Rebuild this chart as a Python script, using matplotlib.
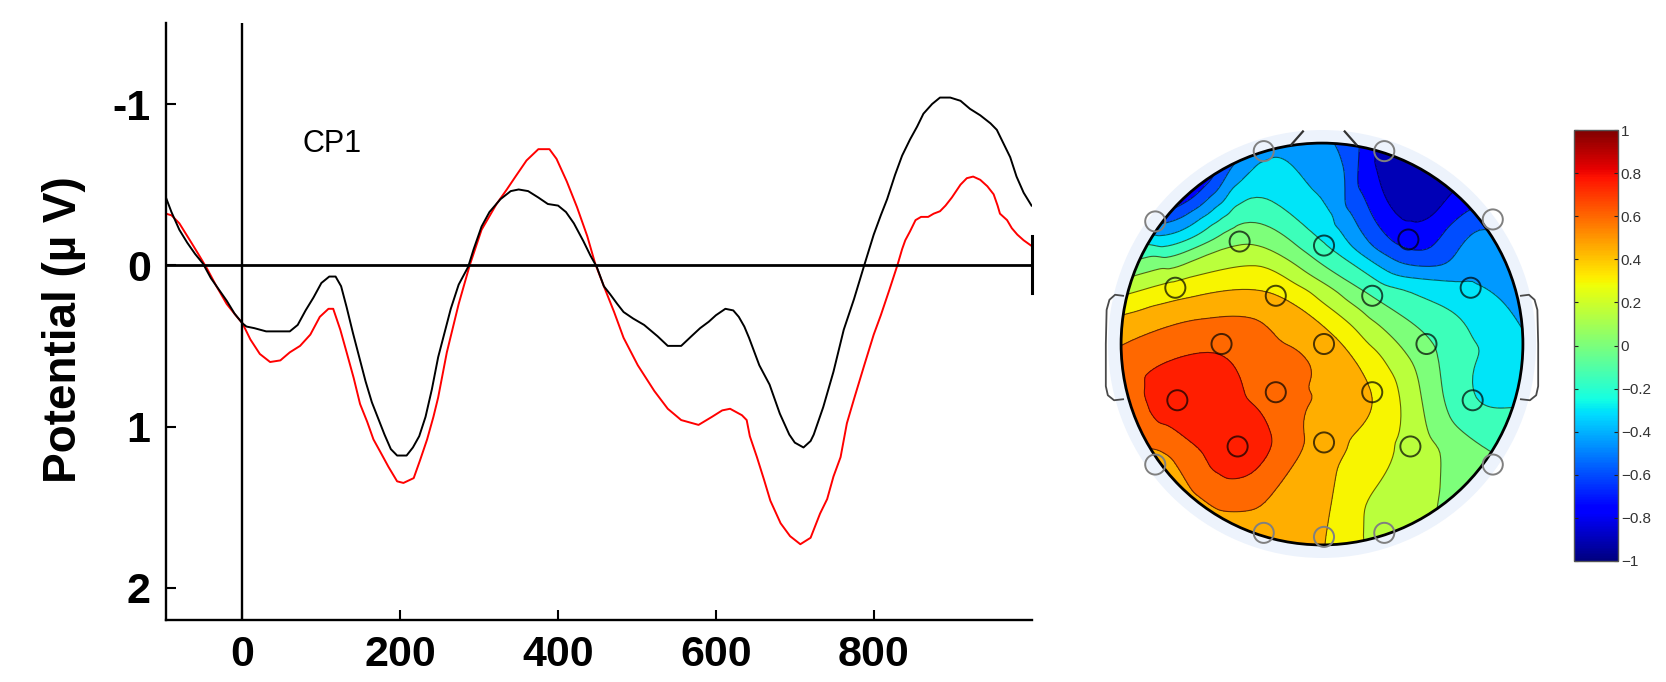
import numpy as np
import matplotlib
matplotlib.use("Agg")
import matplotlib.pyplot as plt
import matplotlib.tri as mtri
from matplotlib.patches import Circle
from matplotlib.colors import Normalize
from matplotlib.cm import ScalarMappable

plt.rcParams['font.family'] = ['Liberation Sans', 'DejaVu Sans']

# ERP at CP1 (ms, microvolts), two conditions
t_black = [-97, -90, -80, -70, -60, -50, -40, -30, -20, -10, 0, 5, 15, 30, 45, 60, 70, 80, 90,
           100, 110, 118, 125, 132, 140, 148, 156, 164, 172, 180, 188, 196, 208, 216, 224, 232,
           240, 248, 256, 264, 274, 286, 293, 303, 313, 327, 340, 350, 362, 375, 387, 400, 410,
           420, 432, 441, 449, 458, 466, 475, 483, 495, 509, 526, 539, 556, 569, 580, 591, 600,
           612, 622, 629, 636, 642, 655, 668, 681, 693, 700, 711, 720, 724, 736, 749, 762, 775,
           788, 800, 809, 817, 827, 836, 846, 855, 863, 874, 884, 897, 910, 922, 935, 948, 956,
           964, 973, 981, 990, 1000]
v_black = [-0.42, -0.33, -0.22, -0.14, -0.07, -0.01, 0.08, 0.15, 0.22, 0.30, 0.36, 0.38, 0.39,
           0.41, 0.41, 0.41, 0.37, 0.28, 0.20, 0.11, 0.07, 0.07, 0.13, 0.26, 0.42, 0.57, 0.72,
           0.85, 0.95, 1.05, 1.14, 1.18, 1.18, 1.13, 1.06, 0.94, 0.77, 0.57, 0.42, 0.27, 0.12,
           0.01, -0.10, -0.24, -0.33, -0.41, -0.46, -0.47, -0.46, -0.42, -0.38, -0.37, -0.33,
           -0.26, -0.15, -0.06, 0.01, 0.13, 0.18, 0.24, 0.29, 0.33, 0.37, 0.44, 0.50, 0.50, 0.44,
           0.39, 0.35, 0.31, 0.27, 0.28, 0.32, 0.38, 0.45, 0.62, 0.74, 0.92, 1.05, 1.10, 1.13,
           1.09, 1.05, 0.88, 0.66, 0.40, 0.21, 0.0, -0.19, -0.31, -0.41, -0.56, -0.68, -0.78,
           -0.86, -0.94, -1.00, -1.04, -1.04, -1.02, -0.97, -0.93, -0.88, -0.84, -0.76, -0.67,
           -0.55, -0.45, -0.37]

t_red = [-97, -90, -80, -66, -56, -45, -33, -20, -7, 0, 10, 22, 35, 48, 60, 73, 86, 98, 109,
         115, 124, 132, 141, 149, 158, 166, 175, 185, 196, 204, 217, 225, 234, 242, 248, 259,
         274, 288, 303, 322, 335, 346, 360, 375, 389, 398, 411, 424, 437, 447, 458, 471, 483,
         501, 522, 539, 556, 578, 595, 608, 618, 633, 639, 643, 652, 661, 669, 682, 694, 707,
         720, 732, 741, 749, 758, 766, 775, 788, 800, 809, 820, 830, 836, 840, 846, 853, 860,
         869, 876, 884, 891, 899, 910, 918, 926, 935, 944, 952, 957, 960, 969, 975, 982, 990,
         1000]
v_red = [-0.32, -0.31, -0.26, -0.15, -0.07, 0.02, 0.13, 0.24, 0.32, 0.36, 0.46, 0.55, 0.60,
         0.59, 0.54, 0.50, 0.43, 0.32, 0.27, 0.27, 0.40, 0.54, 0.70, 0.86, 0.97, 1.08, 1.16,
         1.25, 1.34, 1.35, 1.32, 1.21, 1.08, 0.94, 0.82, 0.54, 0.24, 0.0, -0.22, -0.38, -0.47,
         -0.55, -0.65, -0.72, -0.72, -0.66, -0.52, -0.36, -0.18, -0.01, 0.13, 0.29, 0.45, 0.62,
         0.78, 0.89, 0.96, 0.99, 0.94, 0.90, 0.89, 0.93, 0.96, 1.06, 1.19, 1.33, 1.46, 1.60,
         1.68, 1.73, 1.69, 1.54, 1.45, 1.31, 1.19, 0.98, 0.83, 0.62, 0.43, 0.31, 0.15, 0.0,
         -0.10, -0.155, -0.21, -0.28, -0.30, -0.30, -0.32, -0.335, -0.37, -0.42, -0.50, -0.54,
         -0.55, -0.53, -0.49, -0.44, -0.37, -0.32, -0.28, -0.23, -0.19, -0.155, -0.12]

x_ticks = [0, 200, 400, 600, 800]
y_ticks = [-1, 0, 1, 2]
y_tick_labels = ['-1', '0', '1', '2']

# scalp map: electrode positions (head radius = 1) and amplitudes
elec_x = [-0.29, 0.31, -0.83, 0.85, -0.41, 0.01, 0.43, -0.73, -0.23, 0.25, 0.74, -0.50, 0.01,
          0.52, -0.72, -0.23, 0.25, 0.75, -0.42, 0.01, 0.44, -0.83, 0.85, -0.29, 0.01, 0.31]
elec_y = [0.96, 0.96, 0.61, 0.62, 0.51, 0.49, 0.52, 0.28, 0.24, 0.24, 0.28, 0.0, 0.0, 0.0,
          -0.28, -0.24, -0.24, -0.28, -0.51, -0.49, -0.51, -0.60, -0.60, -0.94, -0.96, -0.94]
elec_v = [-0.40, -0.88, -0.55, -0.60, 0.05, -0.21, -0.74, 0.28, 0.38, -0.08, -0.35, 0.64,
          0.45, -0.05, 0.77, 0.59, 0.37, -0.21, 0.77, 0.45, 0.17, 0.47, -0.05, 0.45, 0.38, 0.15]

# amplitude just outside the scalp edge (angle in degrees, counter-clockwise from the right)
rim_deg = [0, 12, 24, 36, 48, 60, 73, 82, 90, 98, 107, 115, 125, 135, 144, 150, 155, 160, 165,
           170, 175, 180, 190, 200, 208, 216, 230, 240, 252, 262, 270, 278, 288, 298, 310, 324,
           335, 345, 355]
rim_val = [-0.38, -0.45, -0.55, -0.62, -0.82, -0.92, -0.85, -0.62, -0.52, -0.45, -0.40, -0.62,
           -0.86, -0.86, -0.55, -0.30, -0.15, 0.0, 0.15, 0.30, 0.42, 0.50, 0.55, 0.55, 0.52,
           0.47, 0.45, 0.45, 0.45, 0.42, 0.38, 0.28, 0.15, 0.10, 0.02, -0.05, -0.15, -0.25,
           -0.33]

cbar_ticks = [-1, -0.8, -0.6, -0.4, -0.2, 0, 0.2, 0.4, 0.6, 0.8, 1]
cbar_labels = ['\u22121', '\u22120.8', '\u22120.6', '\u22120.4', '\u22120.2', '0',
               '0.2', '0.4', '0.6', '0.8', '1']

fig = plt.figure(figsize=(16.66, 6.82), dpi=100)

# ---- ERP panel ----
ax = fig.add_axes([0.0996, 0.0909, 0.5198, 0.8748])
ax.plot(t_red, v_red, color='#ff0000', lw=1.4)
ax.plot(t_black, v_black, color='black', lw=1.4)
ax.axhline(0, color='black', lw=2)
ax.axvline(0, color='black', lw=1.7)
xmin, xmax = -97, 1000.5
ax.plot([xmax, xmax], [-0.18, 0.17], color='black', lw=2.2, clip_on=False)
ax.set_xlim(xmin, xmax)
ax.set_ylim(2.2, -1.5)
for s in ['top', 'right']:
    ax.spines[s].set_visible(False)
for s in ['left', 'bottom']:
    ax.spines[s].set_linewidth(1.7)
ax.set_xticks(x_ticks)
ax.set_yticks(y_ticks)
ax.set_yticklabels(y_tick_labels)
ax.tick_params(direction='in', length=7, width=1.5, labelsize=31, pad=11)
for lab in ax.get_xticklabels() + ax.get_yticklabels():
    lab.set_fontweight('bold')
ax.set_ylabel('Potential (\u00b5 V)', fontsize=33, fontweight='bold')
ax.yaxis.set_label_coords(-0.092, 0.486)
ax.text(76, -0.75, 'CP1', fontsize=22, va='center', ha='left')

# ---- scalp map ----
tax = fig.add_axes([1101 / 1666, 117 / 682, 442 / 1666, 442 / 682])
tax.set_xlim(-1.1, 1.1)
tax.set_ylim(-1.1, 1.1)
tax.set_aspect('equal')
tax.axis('off')

tax.add_patch(Circle((0, 0), 1.065, fc='#edf3fc', ec='none', zorder=0))

rim_r = 1.06
px = np.concatenate([elec_x, rim_r * np.cos(np.radians(rim_deg))])
py = np.concatenate([elec_y, rim_r * np.sin(np.radians(rim_deg))])
pv = np.concatenate([elec_v, rim_val])
tri = mtri.Triangulation(px, py)
interp = mtri.CubicTriInterpolator(tri, pv, kind='geom')
tri_f, v_f = mtri.UniformTriRefiner(tri).refine_field(pv, interp, subdiv=4)

levels = np.arange(-0.975, 1.0, 0.15)
norm = Normalize(-1, 1)
cf = tax.tricontourf(tri_f, v_f, levels=levels, cmap='jet', norm=norm, extend='both', zorder=1)
cl = tax.tricontour(tri_f, v_f, levels=levels, colors='black', linewidths=0.8, alpha=0.6,
                    linestyles='solid', zorder=2)
head_clip = Circle((0, 0), 1.0, transform=tax.transData)
cf.set_clip_path(head_clip)
cl.set_clip_path(head_clip)

tax.add_patch(Circle((0, 0), 1.0, fill=False, ec='black', lw=2, zorder=3))

# nose and ears
tax.plot([-0.153, -0.095], [0.992, 1.058], color='#333333', lw=1.6, zorder=3)
tax.plot([0.113, 0.171], [1.058, 0.992], color='#333333', lw=1.6, zorder=3)
ear_x = np.array([0.99, 1.03, 1.058, 1.072, 1.076, 1.076, 1.066, 1.035, 0.99])
ear_y = np.array([0.24, 0.245, 0.22, 0.17, 0.0, -0.21, -0.255, -0.28, -0.275])
for side in (-1, 1):
    tax.plot(side * ear_x, ear_y, color='#4a4a4a', lw=1.3, zorder=3)

for x, y in zip(elec_x, elec_y):
    edge = '#808080' if np.hypot(x, y) > 0.9 else (0, 0, 0, 0.7)
    tax.add_patch(Circle((x, y), 0.05, fill=False, ec=edge, lw=1.4, zorder=4))

# ---- colour bar ----
cax = fig.add_axes([1574 / 1666, 121 / 682, 44 / 1666, 431 / 682])
cb = fig.colorbar(ScalarMappable(norm=norm, cmap='jet'), cax=cax, ticks=cbar_ticks)
cb.set_ticklabels(cbar_labels)
cb.outline.set_edgecolor('#555555')
cb.outline.set_linewidth(1.0)
cax.tick_params(direction='in', length=3, width=0.8, left=True, right=True,
                labelsize=11, pad=2, labelcolor='#333333', color='#222222')

fig.savefig('out.png', dpi=100)
